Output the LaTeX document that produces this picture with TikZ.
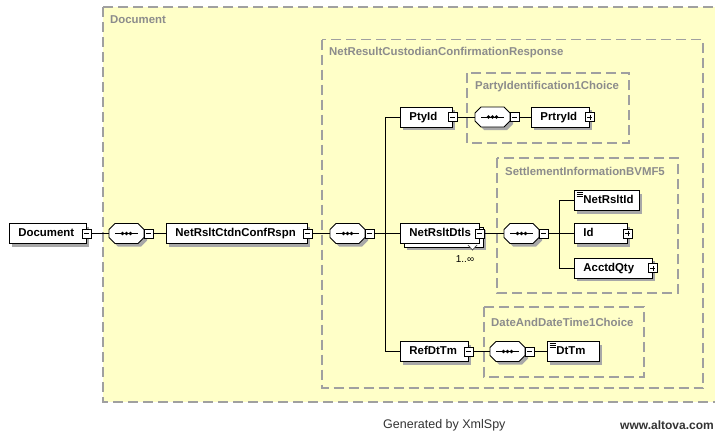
\documentclass[tikz,border=0pt]{standalone}
\usepackage{fontspec}
\setmainfont{Liberation Sans}
\usetikzlibrary{shadows,calc}
\hyphenpenalty=10000
\exhyphenpenalty=10000
\definecolor{bgy}{HTML}{FFFFC8}
\definecolor{dashc}{HTML}{A0A0A0}
\definecolor{lblc}{HTML}{8C8C8C}
\definecolor{shc}{HTML}{A8A8A8}
\newcommand\efont{\fontsize{11.4}{13}\selectfont\bfseries}
\newcommand\seqc[3]{%
\begin{scope}[shift={(#2,#3)}]
 \fill[shc] (3,-1) -- (9,-7) -- (32,-7) -- (38,-1) -- (38,7) -- (32,13) -- (9,13) -- (3,7) -- cycle;
 \draw[fill=white,line width=.9pt] (0,-4) -- (6,-10) -- (29,-10) -- (35,-4) -- (35,4) -- (29,10) -- (6,10) -- (0,4) -- cycle;
 \draw[line width=.9pt] (6,0) -- (29,0);
 \fill (13.5,0) circle (1.8pt) (17.5,0) circle (1.8pt) (21.5,0) circle (1.8pt);
 \node[inner sep=0pt, minimum width=35pt, minimum height=20pt, anchor=west] (#1) at (0,0) {};
 \node[minus, anchor=west] (#1t) at (35,0) {};
\end{scope}}
\begin{document}
\begin{tikzpicture}[x=1pt,y=-1pt,
  elem/.style={draw, fill=white, anchor=west, minimum height=20pt, minimum width=#1pt,
    text width=#1pt-18pt, inner xsep=9pt, inner ysep=0pt, align=left, font=\efont,
    text height=8.5pt, text depth=2.5pt, line width=.9pt},
  shad/.style={drop shadow={shadow xshift=3pt,shadow yshift=-3pt,fill=shc,opacity=1}},
  tog/.style={draw, fill=white, minimum size=9pt, inner sep=0pt, line width=.8pt},
  minus/.style={tog, path picture={\draw[line width=.8pt] ([xshift=2pt]path picture bounding box.west) -- ([xshift=-2pt]path picture bounding box.east);}},
  plus/.style={tog, path picture={\draw[line width=.8pt] ([xshift=2pt]path picture bounding box.west) -- ([xshift=-2pt]path picture bounding box.east) ([yshift=2pt]path picture bounding box.south) -- ([yshift=-2pt]path picture bounding box.north);}},
  grp/.style={draw=dashc, fill=bgy, line width=1.3pt, dash pattern=on 10pt off 5pt},
  glbl/.style={anchor=west, text=lblc, font=\efont, inner sep=0pt},
  conn/.style={line width=.9pt},
  docicon/.style={line width=.7pt}
]
\useasboundingbox (0,0) rectangle (715,434);
\fill[white] (0,0) rectangle (715,434);
% groups
\draw[grp] (103,7) rectangle (718,402);
\node[glbl] (gDoc) at (110,19.5) {Document};
\draw[grp] (322,39.5) rectangle (703,388);
\node[glbl] (gNet) at (329,53) {NetResultCustodianConfirmationResponse};
\draw[grp] (467,73) rectangle (629,143);
\node[glbl] (gParty) at (475,87) {PartyIdentification1Choice};
\draw[grp] (497,158) rectangle (678,293);
\node[glbl] (gSettl) at (505,171.5) {SettlementInformationBVMF5};
\draw[grp] (484,307) rectangle (644,377);
\node[glbl] (gDate) at (491,322) {DateAndDateTime1Choice};
% elements
\node[elem=77, shad] (doc) at (9,233.5) {Document};
\node[minus] (doct) at (doc.east) {};
\seqc{s1}{109}{233.5}
\node[elem=141, shad] (rspn) at (166,233.5) {NetRsltCtdnConfRspn};
\node[minus] (rspnt) at (rspn.east) {};
\seqc{s2}{330}{233.5}
\node[elem=52, shad] (pty) at (400,117) {PtyId};
\node[minus] (ptyt) at (pty.east) {};
\seqc{s3}{475}{117}
\node[elem=58, shad] (prtry) at (531,117) {PrtryId};
\node[plus] (prtryt) at (prtry.east) {};
\node[elem=79, shad] (dtlsb) at (404,237) {};
\node[elem=79] (dtls) at (400,233.5) {NetRsltDtls};
\node[minus] (dtlst) at (dtls.east) {};
\draw[black!70, fill=white, line width=.7pt] (468,245) -- (472.5,250) -- (477,245);
\node[font=\fontsize{10}{12}\selectfont, inner sep=0pt] (mult) at (465,259) {1..∞};
\seqc{s4}{504}{233.5}
\node[elem=65, shad] (nid) at (574,200.5) {NetRsltId};
\foreach \d in {2.5,4.5,6.5} \draw[docicon] ($(nid.north west)+(2.5,\d)$) -- ++(6,0);
\node[elem=53, shad] (id) at (574,233.5) {Id};
\node[plus] (idt) at (id.east) {};
\node[elem=78, shad] (acc) at (574,268) {AcctdQty};
\node[plus] (acct) at (acc.east) {};
\node[elem=68, shad] (ref) at (400,351.5) {RefDtTm};
\node[minus] (reft) at (ref.east) {};
\seqc{s5}{490}{351.5}
\node[elem=52, shad] (dttm) at (547,351.5) {DtTm};
\foreach \d in {2.5,4.5,6.5} \draw[docicon] ($(dttm.north west)+(2.5,\d)$) -- ++(6,0);
% connectors
\draw[conn] (doct.east) -- (s1.west);
\draw[conn] (s1t.east) -- (rspn.west);
\draw[conn] (rspnt.east) -- (s2.west);
\draw[conn] (s2t.east) -- (dtls.west);
\draw[conn] (pty.west) -- ++(-15,0) |- (ref.west);
\draw[conn] (ptyt.east) -- (s3.west);
\draw[conn] (s3t.east) -- (prtry.west);
\draw[conn] (dtlst.east) -- (s4.west);
\draw[conn] (s4t.east) -- (id.west);
\draw[conn] (nid.west) -- ++(-15,0) |- (acc.west);
\draw[conn] (reft.east) -- (s5.west);
\draw[conn] (s5t.east) -- (dttm.west);
% footer
\node[anchor=west, inner sep=0pt, text=black!80, font=\fontsize{12.5}{14}\selectfont] (gen) at (383,425) {Generated by XmlSpy};
\node[anchor=east, inner sep=0pt, text=black!80, font=\fontsize{12}{14}\selectfont\bfseries] (web) at (714,425) {www.altova.com};
\end{tikzpicture}
\end{document}
